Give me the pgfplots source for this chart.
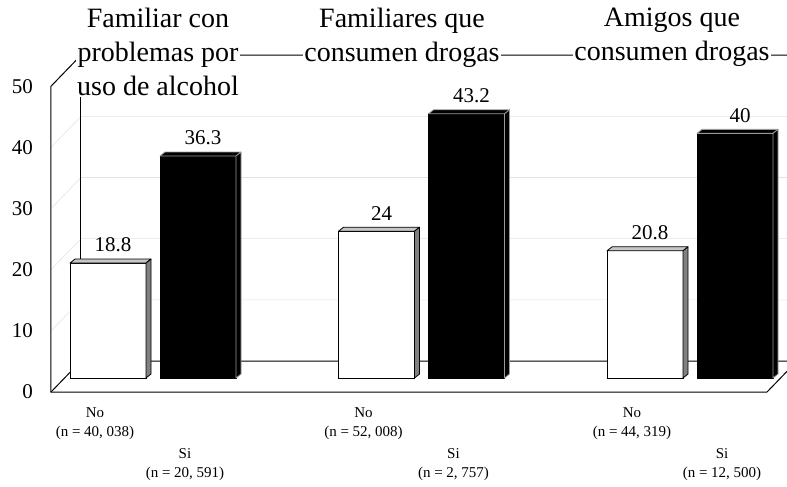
\documentclass[border=0pt]{standalone}
\usepackage{fontspec}
\setmainfont{Liberation Serif}
\usepackage{pgfplots}
\usepackage{pgfplotstable}
\pgfplotsset{compat=1.18}

% bar centres (px) and percentages
\pgfplotstableread{
x v
108 18.8
376.5 24
645 20.8
}\nodata
\pgfplotstableread{
x v
198 36.3
466.5 43.2
735 40
}\sidata

% top and side faces of a 3D bar: centre, value, top fill, side fill, edge colour
\newcommand\barfaces[5]{%
  \pgfmathsetmacro\xl{#1-38}%
  \pgfmathsetmacro\xr{#1+38}%
  \pgfmathsetmacro\xlb{#1-33}%
  \pgfmathsetmacro\xrb{#1+43}%
  \pgfmathsetmacro\vb{#2+0.654}%
  \addplot[fill=#3, draw=#5, line width=0.8pt, line join=round]
    coordinates {(\xl,#2) (\xr,#2) (\xrb,\vb) (\xlb,\vb)} -- cycle;
  \addplot[fill=#4, draw=#5, line width=0.8pt, line join=round]
    coordinates {(\xr,0) (\xrb,0.654) (\xrb,\vb) (\xr,#2)} -- cycle;
}

\begin{document}
\begin{tikzpicture}
\begin{axis}[
  scale only axis,
  width=736pt, height=487pt,
  xmin=51, xmax=787,
  ymin=-17.82, ymax=61.81,
  clip=false,
  axis line style={draw=none},
  xtick=\empty,
  ytick={-2.29,7.71,17.71,27.71,37.71,47.71},
  yticklabels={0,10,20,30,40,50},
  ytick pos=left,
  major tick length=0pt,
  yticklabel style={font=\fontsize{21}{21}\selectfont, anchor=east, inner sep=0pt, xshift=-18pt},
  /pgf/number format/assume math mode=true,
  every node near coord/.append style={font=\fontsize{21}{21}\selectfont, anchor=center, xshift=5pt, yshift=18pt, text=black},
]
% gridlines on side and back walls
\draw[gray!22, line width=0.6pt] foreach \a/\b in {7.71/12.78,17.71/22.78,27.71/32.78,37.71/42.78}
  {(axis cs:51,\a) -- (axis cs:81,\b) -- (axis cs:787,\b)};
% frame of the 3D box
\draw[black, line width=1pt] (axis cs:51,47.71) -- (axis cs:51,-2.29) -- (axis cs:767,-2.29) -- (axis cs:787,1.09);
\draw[black, line width=1pt] (axis cs:51,-2.29) -- (axis cs:81,2.78) -- (axis cs:787,2.78);
\draw[black, line width=1pt] (axis cs:81,2.78) -- (axis cs:81,52.78);
\draw[black, line width=1pt] (axis cs:51,47.71) -- (axis cs:81,52.78) -- (axis cs:787,52.78);

% No
\addplot[ybar, bar width=76, bar shift=0pt, fill=white, draw=black, line width=0.8pt, nodes near coords]
  table[x=x, y=v] {\nodata};
\pgfplotsforeachungrouped \i in {0,1,2}{%
  \pgfplotstablegetelem{\i}{x}\of\nodata \let\bx\pgfplotsretval
  \pgfplotstablegetelem{\i}{v}\of\nodata \let\bv\pgfplotsretval
  \barfaces{\bx}{\bv}{gray!45}{gray}{black}
}
% Si
\addplot[ybar, bar width=76, bar shift=0pt, fill=black, draw=black, line width=0.8pt, nodes near coords]
  table[x=x, y=v] {\sidata};
\pgfplotsforeachungrouped \i in {0,1,2}{%
  \pgfplotstablegetelem{\i}{x}\of\sidata \let\bx\pgfplotsretval
  \pgfplotstablegetelem{\i}{v}\of\sidata \let\bv\pgfplotsretval
  \barfaces{\bx}{\bv}{black}{black}{white!60!black}
}

% group titles
\tikzset{gtitle/.style={anchor=north, fill=white, inner sep=1pt, align=center, font=\fontsize{28}{34}\selectfont}}
\node[gtitle] at (axis cs:158,60.66) {Familiar con\\problemas por\\uso de alcohol};
\node[gtitle] at (axis cs:402,60.66) {Familiares que\\consumen drogas};
\node[gtitle] at (axis cs:672,60.66) {Amigos que\\consumen drogas};

% category labels
\tikzset{clab/.style={align=center, font=\fontsize{15}{19}\selectfont}}
\node[clab] at (axis cs:95,-7.52) {No\\(n = 40, 038)};
\node[clab] at (axis cs:185,-14.23) {Si\\(n = 20, 591)};
\node[clab] at (axis cs:363.5,-7.52) {No\\(n = 52, 008)};
\node[clab] at (axis cs:453.5,-14.23) {Si\\(n = 2, 757)};
\node[clab] at (axis cs:632,-7.52) {No\\(n = 44, 319)};
\node[clab] at (axis cs:722,-14.23) {Si\\(n = 12, 500)};

\coordinate (bbsw) at (axis cs:0,-17.82);
\coordinate (bbne) at (axis cs:787,61.81);
\end{axis}
\pgfresetboundingbox
\path (bbsw) rectangle (bbne);
\end{tikzpicture}
\end{document}
